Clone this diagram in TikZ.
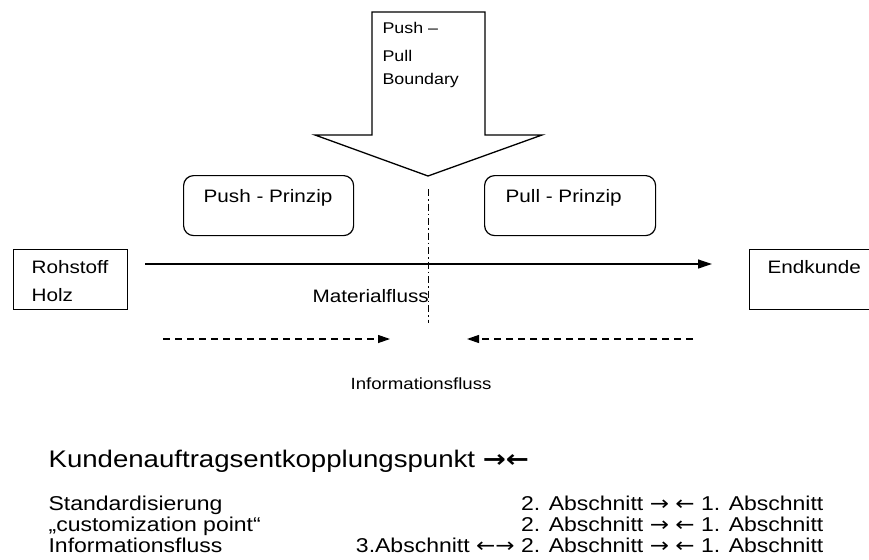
\documentclass[tikz,border=0pt]{standalone}
\usepackage{fontspec}
\setmainfont[FakeStretch=1.15]{Liberation Sans}
\newfontfamily\arrowfont[FakeStretch=1.15]{DejaVu Sans}
\usetikzlibrary{arrows.meta}
\begin{document}
\begin{tikzpicture}[x=1pt,y=-1pt,line width=1.2pt,
  lbl/.style={inner sep=0pt,anchor=base west,font=\fontsize{18}{20}\selectfont},
  smalllbl/.style={inner sep=0pt,anchor=base west,font=\fontsize{15.5}{18}\selectfont},
  rowlbl/.style={inner sep=0pt,font=\fontsize{20}{22}\selectfont},
  sqbox/.style={draw,inner sep=0pt,anchor=north west},
  rdbox/.style={draw,inner sep=0pt,anchor=north west,rounded corners=10pt},
  flow/.style={-{Triangle[length=14pt,width=9pt]}},
  infoflow/.style={dash pattern=on 7pt off 5pt,-{Triangle[length=12pt,width=8pt]}},
  boundary/.style={line width=1pt,dash pattern=on 7pt off 3pt on 1.5pt off 3pt}]
\useasboundingbox (0,0) rectangle (869,559);
\clip (0,0) rectangle (869,559);
% big boundary arrow
\coordinate (tip) at (428,176);
\draw[line width=1.3pt,line join=miter] (372,12) -- (485,12) -- (485,135) -- (542,135) -- (tip) -- (315,135) -- (372,135) -- cycle;
\node[smalllbl] (b1) at (382,34) {Push --};
\node[smalllbl] (b2) at (382,62) {Pull};
\node[smalllbl] (b3) at (382,85) {Boundary};
% principle boxes
\node[rdbox,minimum width=170pt,minimum height=60pt] (pushbox) at (183,175) {};
\node[lbl] (pusht) at (203,202) {Push - Prinzip};
\node[rdbox,minimum width=171pt,minimum height=60pt] (pullbox) at (484,175) {};
\node[lbl] (pullt) at (505,202) {Pull - Prinzip};
% end boxes
\node[sqbox,minimum width=114pt,minimum height=60pt] (roh) at (13,249) {};
\node[lbl] (roht) at (31,273) {Rohstoff};
\node[lbl] (holzt) at (31,301) {Holz};
\node[sqbox,minimum width=140pt,minimum height=60pt] (end) at (749,249) {};
\node[lbl] (endt) at (767,273) {Endkunde};
% material flow
\coordinate (ms) at (145,264);
\coordinate (me) at (712,264);
\draw[flow] (ms) -- (me);
\node[lbl] (matt) at (312,302) {Materialfluss};
% boundary line
\coordinate (bl1) at (428,189);
\coordinate (bl2) at (428,323);
\draw[boundary] (bl1) -- (bl2);
% information flow
\coordinate (i1s) at (163,339);
\coordinate (i1e) at (390,339);
\coordinate (i2s) at (693,339);
\coordinate (i2e) at (467,339);
\draw[infoflow] (i1s) -- (i1e);
\draw[infoflow] (i2s) -- (i2e);
\node[inner sep=0pt,anchor=base,font=\fontsize{16.2}{18}\selectfont] (infot) at (421,389) {Informationsfluss};
% bottom text
\node[inner sep=0pt,anchor=base west,font=\fontsize{24}{26}\selectfont] (kunden) at (48,467) {Kundenauftragsentkopplungspunkt {\arrowfont\bfseries →←}};
\node[rowlbl,anchor=base west] (r1l) at (48,510) {Standardisierung};
\node[rowlbl,anchor=base west] (r2l) at (48,531) {„customization point“};
\node[rowlbl,anchor=base west] (r3l) at (48,552) {Informationsfluss};
\node[rowlbl,anchor=base east] (r1r) at (824,510) {2. Abschnitt {\arrowfont→} {\arrowfont←} 1. Abschnitt};
\node[rowlbl,anchor=base east] (r2r) at (824,531) {2. Abschnitt {\arrowfont→} {\arrowfont←} 1. Abschnitt};
\node[rowlbl,anchor=base east] (r3r) at (824,552) {3.Abschnitt {\arrowfont←→} 2. Abschnitt {\arrowfont→} {\arrowfont←} 1. Abschnitt};
\end{tikzpicture}
\end{document}
